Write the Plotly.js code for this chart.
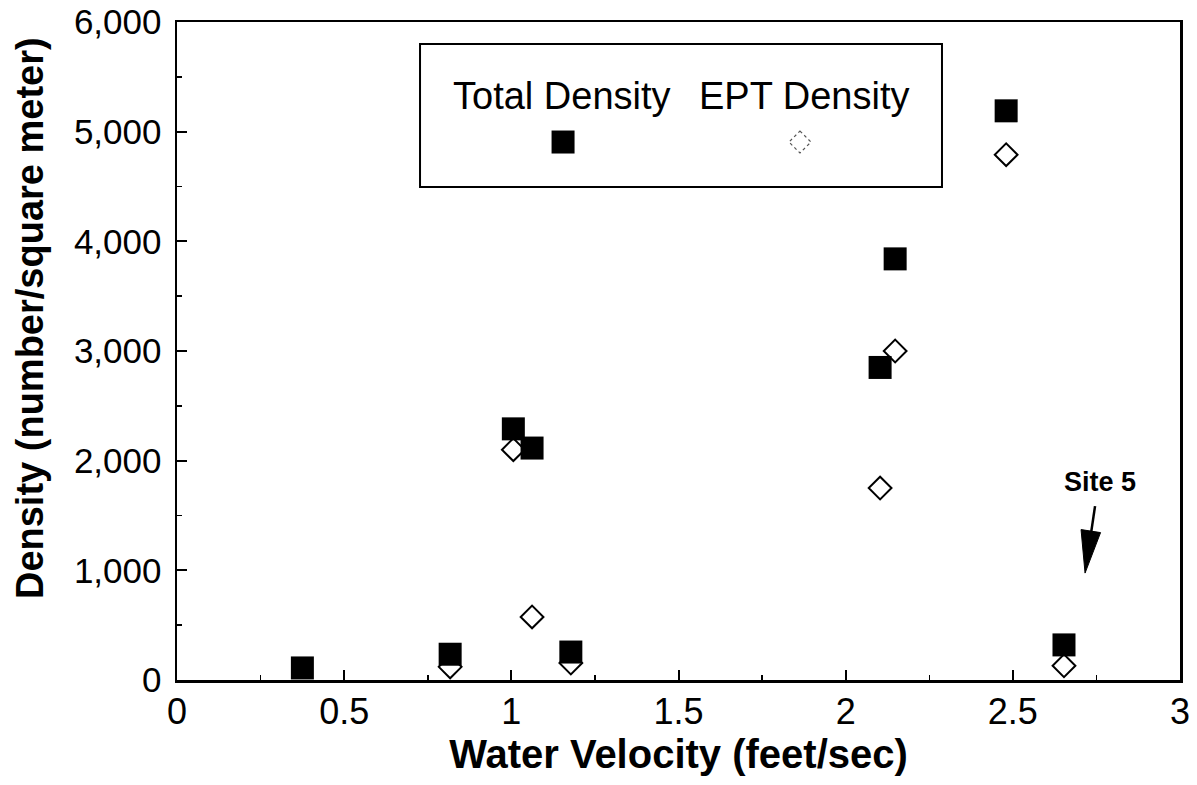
<!DOCTYPE html>
<html>
<head>
<meta charset="utf-8">
<script src="https://cdn.plot.ly/plotly-3.0.1.min.js"></script>
<style>html,body{margin:0;padding:0;background:#fff;}#chart{width:1197px;height:785px;}</style>
</head>
<body>
<div id="chart"></div>
<script>
// Water velocity (feet/sec) at each site
const velocity = [0.375, 0.817, 1.006, 1.062, 1.178, 2.103, 2.148, 2.48, 2.653];
// Total density (number/square meter)
const totalDensity = [110, 235, 2290, 2115, 255, 2850, 3840, 5190, 320];
// EPT density (number/square meter); first site hidden behind its square in the original
const eptDensity = [null, 120, 2100, 575, 155, 1750, 3000, 4790, 130];
const seriesNames = ["Total Density", "EPT Density"];
const xTickVals = [0, 0.5, 1, 1.5, 2, 2.5, 3];
const yTickVals = [0, 1000, 2000, 3000, 4000, 5000, 6000];
const site5 = {label: "Site 5", velocity: 2.716, density: 975};

const FONT = "Liberation Sans, Arial, Helvetica, sans-serif";

const traces = [
  {
    type: "scatter", mode: "markers", name: seriesNames[1],
    x: velocity, y: eptDensity, showlegend: false, cliponaxis: false,
    marker: {symbol: "diamond", size: 17.5, color: "#ffffff", line: {color: "#000", width: 2}}
  },
  {
    type: "scatter", mode: "markers", name: seriesNames[0],
    x: velocity, y: totalDensity, showlegend: false, cliponaxis: false,
    marker: {symbol: "square", size: 23, color: "#000", line: {width: 0}}
  }
];

const layout = {
  width: 1197, height: 785,
  margin: {l: 177, r: 17, t: 22, b: 105},
  paper_bgcolor: "#fff", plot_bgcolor: "#fff",
  showlegend: false,
  font: {family: FONT, color: "#000"},
  xaxis: {
    range: [0, 3], tickvals: xTickVals, ticktext: xTickVals.map(String),
    ticks: "inside", ticklen: 10, tickwidth: 2, tickcolor: "#000",
    minor: {dtick: 0.25, ticks: "inside", ticklen: 5, tickwidth: 1.5, tickcolor: "#000"},
    showline: true, linewidth: 2.5, linecolor: "#000", mirror: true,
    showgrid: false, zeroline: false,
    tickfont: {size: 36, family: FONT},
    ticklabelstandoff: -2,
    title: {text: "<b>Water Velocity (feet/sec)</b>", font: {size: 40, family: FONT}, standoff: 2}
  },
  yaxis: {
    range: [0, 6000], tickvals: yTickVals, tickformat: ",d",
    ticks: "inside", ticklen: 10, tickwidth: 2, tickcolor: "#000",
    minor: {dtick: 500, ticks: "inside", ticklen: 5, tickwidth: 1.5, tickcolor: "#000"},
    showline: true, linewidth: 2.5, linecolor: "#000", mirror: true,
    showgrid: false, zeroline: false,
    tickfont: {size: 35, family: FONT},
    ticklabelstandoff: 6,
    title: {text: ""}
  },
  shapes: [
    // legend box
    {type: "rect", xref: "paper", yref: "paper", x0: 0.2423, x1: 0.7627, y0: 0.7492, y1: 0.9666,
     line: {color: "#000", width: 2}, fillcolor: "#fff", layer: "above"},
    // legend keys
    {type: "rect", xref: "paper", yref: "paper", xsizemode: "pixel", ysizemode: "pixel",
     xanchor: 0.3849, yanchor: 0.8176, x0: -11.5, x1: 11.5, y0: -11.5, y1: 11.5,
     fillcolor: "#000", line: {width: 0}, layer: "above"},
    {type: "path", xref: "paper", yref: "paper", xsizemode: "pixel", ysizemode: "pixel",
     xanchor: 0.6211, yanchor: 0.8176, path: "M0,11 L11,0 L0,-11 L-11,0 Z",
     fillcolor: "#fff", line: {color: "#555", width: 1.2, dash: "dot"}, layer: "above"},
    // Site 5 arrow
    {type: "path", xref: "x", yref: "y", xsizemode: "pixel", ysizemode: "pixel",
     xanchor: site5.velocity, yanchor: site5.density, path: "M6,40 L10,67",
     line: {color: "#000", width: 2.5}},
    {type: "path", xref: "x", yref: "y", xsizemode: "pixel", ysizemode: "pixel",
     xanchor: site5.velocity, yanchor: site5.density, path: "M0,0 L15.5,40.5 L-4,43.5 Z",
     fillcolor: "#000", line: {color: "#000", width: 1}}
  ],
  annotations: [
    {xref: "paper", yref: "paper", x: -0.1466, y: 0.55, text: "<b>Density (number/square meter)</b>",
     textangle: -90, showarrow: false, font: {size: 38, family: FONT}, xanchor: "center", yanchor: "middle"},
    {xref: "paper", yref: "paper", x: 0.3839, y: 0.887, text: seriesNames[0], showarrow: false,
     font: {size: 38, family: FONT}, xanchor: "center", yanchor: "middle"},
    {xref: "paper", yref: "paper", x: 0.6251, y: 0.887, text: seriesNames[1], showarrow: false,
     font: {size: 38, family: FONT}, xanchor: "center", yanchor: "middle"},
    {xref: "x", yref: "y", x: 2.76, y: 1805, text: "<b>" + site5.label + "</b>", showarrow: false,
     font: {size: 27, family: FONT}, xanchor: "center", yanchor: "middle"}
  ]
};

Plotly.newPlot("chart", traces, layout, {displayModeBar: false, staticPlot: true});
</script>
</body>
</html>
